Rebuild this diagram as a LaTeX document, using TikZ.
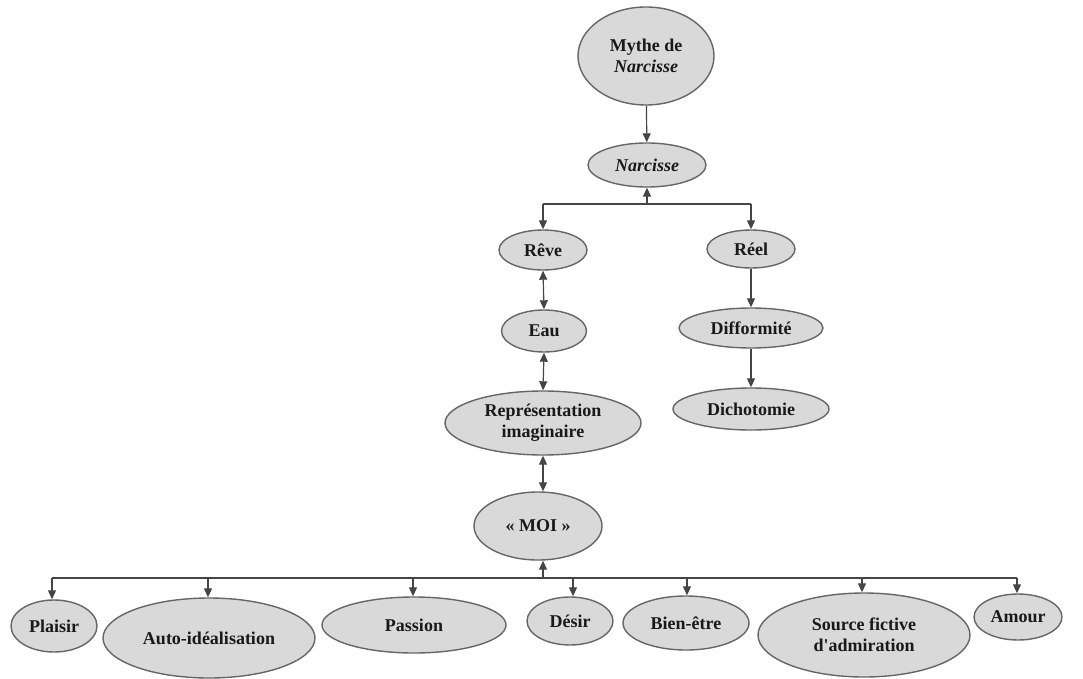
\documentclass[tikz,border=0pt]{standalone}
\usepackage{fontspec}
\setmainfont{Liberation Serif}[Ligatures=TeXOff]
\usetikzlibrary{shapes.geometric,arrows.meta}
\definecolor{nodefill}{HTML}{D9D9D9}
\definecolor{nodeline}{HTML}{666666}
\definecolor{conn}{HTML}{454545}
\tikzset{
  bub/.style={ellipse, draw=nodeline, line width=1.4pt, fill=nodefill, inner sep=0pt,
    font=\fontsize{18}{21}\selectfont\bfseries, align=center, text=black!90},
  link/.style={draw=conn, line width=1.2pt},
  arr/.style={link, -{Triangle[length=9pt,width=8pt]}},
  darr/.style={link, {Triangle[length=9pt,width=8pt]}-{Triangle[length=9pt,width=8pt]}},
}
\begin{document}
\begin{tikzpicture}[x=1pt,y=-1pt]
\useasboundingbox (0,0) rectangle (1083,679);
% nodes
\node[bub, minimum width=136pt, minimum height=98pt] (mythe) at (646,56) {Mythe de\\\textit{Narcisse}};
\node[bub, minimum width=118pt, minimum height=44pt] (narc) at (647,165) {\textit{Narcisse}};
\node[bub, minimum width=88pt, minimum height=40pt] (reve) at (543,250) {Rêve};
\node[bub, minimum width=88pt, minimum height=38pt] (reel) at (751,249) {Réel};
\node[bub, minimum width=85pt, minimum height=42pt] (eau) at (544,331) {Eau};
\node[bub, minimum width=144pt, minimum height=40pt] (diff) at (751,328) {Difformité};
\node[bub, minimum width=196pt, minimum height=64pt] (repr) at (543,423) {Représentation\\imaginaire};
\node[bub, minimum width=156pt, minimum height=42pt] (dicho) at (751,409) {Dichotomie};
\node[bub, minimum width=128pt, minimum height=68pt] (moi) at (538,526) {« MOI »};
% bottom row
\node[bub, minimum width=86pt, minimum height=52pt] (plaisir) at (54,626) {Plaisir};
\node[bub, minimum width=212pt, minimum height=80pt] (auto) at (209,638) {Auto-idéalisation};
\node[bub, minimum width=184pt, minimum height=56pt] (passion) at (414,625) {Passion};
\node[bub, minimum width=86pt, minimum height=48pt] (desir) at (570,621) {Désir};
\node[bub, minimum width=126pt, minimum height=54pt] (bien) at (686,623) {Bien-être};
\node[bub, minimum width=212pt, minimum height=84pt] (source) at (864,635) {Source fictive\\d'admiration};
\node[bub, minimum width=88pt, minimum height=46pt] (amour) at (1018,617) {Amour};
% junction coordinates
\coordinate (j1) at (647,204);
\coordinate (j1l) at (543,204);
\coordinate (j1r) at (751,204);
\coordinate (j2) at (543,578);
\coordinate (b1) at (52,578);
\coordinate (b2) at (208,578);
\coordinate (b3) at (413,578);
\coordinate (b4) at (573,578);
\coordinate (b5) at (687,578);
\coordinate (b6) at (862,578);
\coordinate (b7) at (1017,578);
% connectors
\draw[arr] (mythe) -- (narc);
\draw[link] (j1l) -- (j1r);
\draw[arr] (j1) -- (narc.south);
\draw[arr] (j1l) -- (reve.north);
\draw[arr] (j1r) -- (reel.north);
\draw[darr] (reve.south) -- (eau.north);
\draw[darr] (eau.south) -- (repr.north);
\draw[darr] (repr.south) -- (moi.north -| repr.south);
\draw[arr] (reel.south) -- (diff.north);
\draw[arr] (diff.south) -- (dicho.north);
\draw[link] (b1) -- (b7);
\draw[arr] (j2) -- (moi.south -| j2);
\draw[arr] (b1) -- (plaisir.north -| b1);
\draw[arr] (b2) -- (auto.north -| b2);
\draw[arr] (b3) -- (passion.north -| b3);
\draw[arr] (b4) -- (desir.north -| b4);
\draw[arr] (b5) -- (bien.north -| b5);
\draw[arr] (b6) -- (source.north -| b6);
\draw[arr] (b7) -- (amour.north -| b7);
\end{tikzpicture}
\end{document}
